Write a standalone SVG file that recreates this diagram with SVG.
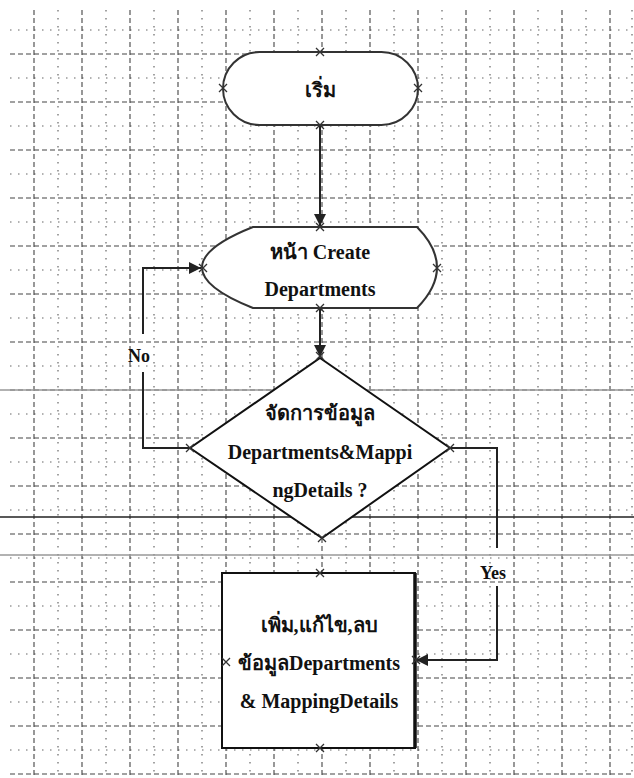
<svg xmlns="http://www.w3.org/2000/svg" xmlns:xlink="http://www.w3.org/1999/xlink" width="634" height="778" viewBox="0 0 634 778">
<style>
.gmaj{fill:none;stroke:#444;stroke-width:1.1;stroke-dasharray:5,3}
.gmin{fill:none;stroke:#666;stroke-width:1.2;stroke-dasharray:1.5,6.5}
.scan{fill:none;stroke:#999;stroke-width:1.5}
.scanb{fill:none;stroke:#222;stroke-width:1.3}
.shape{fill:#fff;stroke:#333;stroke-width:2}
.dshape{fill:#fff;stroke:#111;stroke-width:2}
.conn{fill:none;stroke:#222;stroke-width:2}
.t{font-family:"Liberation Serif","Noto Sans",serif;font-weight:bold;font-size:20px;fill:#111;text-anchor:middle}
.lbl{font-family:"Liberation Serif","Noto Sans",serif;font-weight:bold;font-size:18px;fill:#111}
.xm{fill:none;stroke:#333;stroke-width:1.3}
</style>
<defs>
<marker id="arr" markerUnits="userSpaceOnUse" markerWidth="14" markerHeight="12" refX="12" refY="6" orient="auto">
<path d="M0,0 L12,6 L0,12 Z" fill="#222"/>
</marker>
<path id="x" d="M-4,-4 L4,4 M-4,4 L4,-4" class="xm"/>
</defs>
<rect width="634" height="778" fill="#fff"/>
<g id="grid">
<path class="gmin" d="M58,10V778M106,10V778M154,10V778M202,10V778M250,10V778M298,10V778M346,10V778M394,10V778M442,10V778M490,10V778M538,10V778M586,10V778M632,10V778"/>
<path class="gmin" d="M10,30H634M10,78H634M10,126H634M10,174H634M10,222H634M10,270H634M10,318H634M10,366H634M10,414H634M10,462H634M10,510H634M10,558H634M10,606H634M10,654H634M10,702H634M10,750H634"/>
<path class="gmaj" d="M34,10V778M82,10V778M130,10V778M178,10V778M226,10V778M274,10V778M322,10V778M370,10V778M418,10V778M466,10V778M514,10V778M562,10V778M610,10V778"/>
<path class="gmaj" d="M10,54H634M10,102H634M10,150H634M10,198H634M10,246H634M10,294H634M10,342H634M10,390H634M10,438H634M10,486H634M10,534H634M10,582H634M10,630H634M10,678H634M10,726H634M10,774H634"/>
<path class="scan" d="M0,390H634M0,555H634"/>
<path class="scanb" d="M0,517H634"/>
</g>
<g id="connectors">
<path class="conn" d="M320,125V226" marker-end="url(#arr)"/>
<path class="conn" d="M320,308V357" marker-end="url(#arr)"/>
<path class="conn" d="M190,448H143V372M143,334V268H201" marker-end="url(#arr)"/>
<path class="conn" d="M450,448H497V548M497,586V660H416" marker-end="url(#arr)"/>
</g>
<g id="start">
<rect class="shape" x="223" y="52" width="195" height="73" rx="36.5"/>
<text class="t" x="320" y="97">เริ่ม</text>
<use xlink:href="#x" x="320" y="52"/><use xlink:href="#x" x="223" y="88"/><use xlink:href="#x" x="418" y="88"/><use xlink:href="#x" x="320" y="125"/>
</g>
<g id="create">
<path class="shape" d="M253,227H417Q457,267.5 417,308H253Q151,267.5 253,227Z"/>
<text class="t" x="320" y="259">หน้า Create</text>
<text class="t" x="320" y="296">Departments</text>
<use xlink:href="#x" x="320" y="227"/><use xlink:href="#x" x="203" y="268"/><use xlink:href="#x" x="437" y="268"/><use xlink:href="#x" x="320" y="308"/>
</g>
<g id="decision">
<polygon class="dshape" points="320,358 450,448 322,538 190,448"/>
<text class="t" x="320" y="420">จัดการข้อมูล</text>
<text class="t" x="320" y="459">Departments&amp;Mappi</text>
<text class="t" x="320" y="497">ngDetails ?</text>
<use xlink:href="#x" x="320" y="356"/><use xlink:href="#x" x="190" y="448"/><use xlink:href="#x" x="450" y="448"/><use xlink:href="#x" x="322" y="538"/>
</g>
<g id="manage">
<rect class="dshape" x="222" y="573" width="193" height="175"/>
<path d="M415,573V748" stroke="#111" stroke-width="3.5"/>
<text class="t" x="319" y="632">เพิ่ม,แก้ไข,ลบ</text>
<text class="t" x="319" y="670">ข้อมูลDepartments</text>
<text class="t" x="319" y="708">&amp; MappingDetails</text>
<use xlink:href="#x" x="320" y="573"/><use xlink:href="#x" x="226" y="662"/><use xlink:href="#x" x="416" y="660"/><use xlink:href="#x" x="320" y="748"/>
</g>
<g id="labels">
<text class="lbl" x="128" y="362">No</text>
<text class="lbl" x="480" y="579">Yes</text>
</g>
</svg>
